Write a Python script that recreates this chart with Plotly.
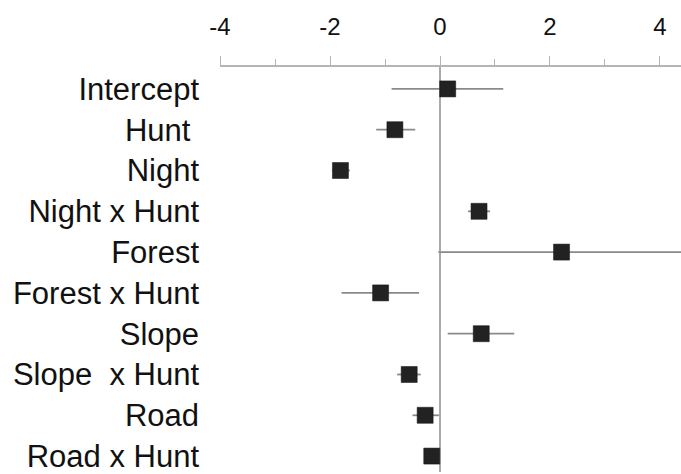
import plotly.graph_objects as go

terms = ["Intercept", "Hunt ", "Night", "Night x Hunt", "Forest", "Forest x Hunt",
         "Slope", "Slope  x Hunt", "Road", "Road x Hunt"]
estimate = [0.14, -0.82, -1.81, 0.71, 2.21, -1.08, 0.75, -0.56, -0.27, -0.15]
ci_low = [-0.88, -1.16, -1.96, 0.51, -0.03, -1.79, 0.14, -0.78, -0.50, -0.22]
ci_high = [1.15, -0.45, -1.64, 0.91, 4.6, -0.38, 1.35, -0.35, -0.02, -0.08]
x_tick_vals = [-4, -2, 0, 2, 4]
x_tick_text = ["-4", "-2", "0", "2", "4"]

err_plus = [h - e for h, e in zip(ci_high, estimate)]
err_minus = [e - l for e, l in zip(estimate, ci_low)]
ypos = list(range(len(terms)))

fig = go.Figure()
fig.add_trace(go.Scatter(
    x=estimate, y=ypos, mode="markers",
    marker=dict(symbol="square", size=16, color="#222222",
                line=dict(color="#111111", width=0.5)),
    error_x=dict(type="data", symmetric=False, array=err_plus, arrayminus=err_minus,
                 color="#8a8a8a", thickness=1.8, width=0),
    cliponaxis=False, showlegend=False,
))

fig.update_layout(
    width=681, height=474,
    margin=dict(l=220, r=0, t=67, b=0),
    paper_bgcolor="white", plot_bgcolor="white",
    font=dict(family="Liberation Sans, Arial, sans-serif", size=31, color="#111111"),
    xaxis=dict(
        side="top", range=[-4, 4.382], tickmode="array",
        tickvals=x_tick_vals, ticktext=x_tick_text,
        ticks="outside", ticklen=9, tickcolor="#b5b5b5", tickwidth=1,
        showline=True, linecolor="#b5b5b5", linewidth=1.5,
        showgrid=False, zeroline=True, zerolinecolor="#aaaaaa", zerolinewidth=1.5,
        minor=dict(dtick=1, tick0=-4, ticks="outside", ticklen=6, tickcolor="#b5b5b5", showgrid=False),
        ticklabelstandoff=12, ticklabeloverflow="allow",
        tickfont=dict(size=24),
    ),
    yaxis=dict(
        range=[9.39, -0.537], tickmode="array", tickvals=ypos, ticktext=terms,
        showgrid=False, zeroline=False, showline=False, ticks="",
        ticklabelstandoff=20, ticklabeloverflow="allow",
    ),
)

fig.write_html("out.html")
